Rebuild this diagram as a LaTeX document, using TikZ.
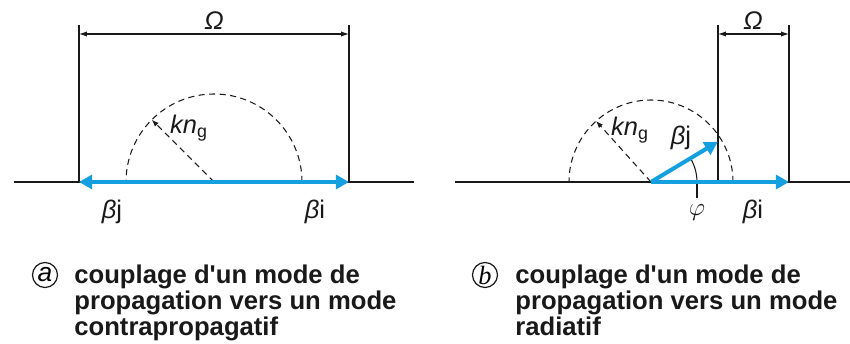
\documentclass[tikz,border=0pt]{standalone}
\usepackage{fontspec}
\setmainfont{Liberation Sans}
\newfontfamily\capfont{Liberation Sans}
\newfontfamily\tagserif{Liberation Serif}
\usepackage{xcolor}
\usepackage{tikz}
\usetikzlibrary{arrows.meta, calc}
\definecolor{vecblue}{RGB}{20,160,222}
\definecolor{inkblack}{RGB}{25,25,25}

\tikzset{
    axisline/.style={inkblack, line width=0.7pt},
    wall/.style={inkblack, line width=0.7pt},
    dimline/.style={inkblack, line width=0.6pt,
        {Latex[length=4.5pt,width=3pt]}-{Latex[length=4.5pt,width=3pt]}},
    halfcircle/.style={inkblack, line width=0.6pt, dash pattern=on 3.5pt off 2.5pt},
    radiusline/.style={halfcircle, -{Latex[length=4pt,width=3pt]}},
    vecarrow/.style={vecblue, line width=2.3pt, -{Triangle[length=7.5pt,width=8pt]}},
    bivec/.style={vecblue, line width=2.3pt,
        {Triangle[length=7.5pt,width=8pt]}-{Triangle[length=7.5pt,width=8pt]}},
    sym/.style={font=\fontsize{14.5pt}{16pt}\selectfont, inner sep=1pt, text=inkblack},
    captext/.style={font=\capfont\fontsize{14.6pt}{13.6pt}\selectfont\bfseries,
        align=left, anchor=north west, inner sep=0pt, text=inkblack},
    tag/.style={circle, draw=inkblack, line width=0.7pt, inner sep=0pt,
        minimum size=0.5cm, font=\fontsize{15pt}{16pt}\selectfont\itshape}
}

\begin{document}
\begin{tikzpicture}[x=0.02cm, y=0.02cm]

    \useasboundingbox (0,0) rectangle (850,344);

    % (a) contrapropagatif
    \coordinate (Oa) at (214,162);
    \coordinate (aLeft) at (14,162);
    \coordinate (aRight) at (414,162);
    \coordinate (aWallL) at (79,162);
    \coordinate (aWallR) at (349,162);
    \coordinate (aTopL) at (79,319);
    \coordinate (aTopR) at (349,319);
    \coordinate (aDimL) at (79,310);
    \coordinate (aDimR) at (349,310);
    \coordinate (aRad) at ($(Oa)+(135:88)$);

    \draw[axisline] (aLeft) -- (aRight);
    \draw[wall] (aWallL) -- (aTopL);
    \draw[wall] (aWallR) -- (aTopR);
    \draw[dimline] (aDimL) -- (aDimR);
    \draw[halfcircle] ($(Oa)+(88,0)$) arc[start angle=0, end angle=180, radius=88];
    \draw[radiusline] (Oa) -- (aRad);
    \draw[bivec] (aWallL) -- (aWallR);

    \node[sym] (aOmega) at (214,323) {\textit{Ω}};
    \node[sym, anchor=west] (aKng) at (168,216) {\textit{kn}\textsubscript{g}};
    \node[sym] (aBj) at (112,132) {\textit{β}j};
    \node[sym] (aBi) at (315,132) {\textit{β}i};

    % (b) radiatif
    \coordinate (Ob) at (651,162);
    \coordinate (bLeft) at (455,162);
    \coordinate (bRight) at (850,162);
    \coordinate (bWallL) at (718,162);
    \coordinate (bWallR) at (789,162);
    \coordinate (bTopL) at (718,319);
    \coordinate (bTopR) at (789,319);
    \coordinate (bDimL) at (718,310);
    \coordinate (bDimR) at (789,310);
    \coordinate (bRad) at ($(Ob)+(132:82)$);
    \coordinate (bTip) at ($(Ob)+(31:78)$);
    \coordinate (phiFoot) at (697,146);

    \draw[axisline] (bLeft) -- (bRight);
    \draw[wall] (bWallL) -- (bTopL);
    \draw[wall] (bWallR) -- (bTopR);
    \draw[dimline] (bDimL) -- (bDimR);
    \draw[halfcircle] ($(Ob)+(82,0)$) arc[start angle=0, end angle=180, radius=82];
    \draw[radiusline] (Ob) -- (bRad);
    \draw[inkblack, line width=0.6pt] ($(Ob)+(46,0)$) arc[start angle=0, end angle=31, radius=46];
    \draw[inkblack, line width=0.6pt] ($(Ob)+(46,0)$) -- (phiFoot);
    \draw[vecarrow] (Ob) -- (bWallR);
    \draw[vecarrow] (Ob) -- (bTip);

    \node[sym] (bOmega) at (753,323) {\textit{Ω}};
    \node[sym, anchor=west] (bKng) at (609,214) {\textit{kn}\textsubscript{g}};
    \node[sym] (bBj) at (681,206) {\textit{β}j};
    \node[sym] (bPhi) at (697,131) {$\varphi$};
    \node[sym] (bBi) at (753,132) {\textit{β}i};

    % legends
    \node[tag] (tagA) at (45,69) {a};
    \node[captext] (capA) at (74,79)
    {
        couplage d'un mode de\\
        propagation vers un mode\\
        contrapropagatif
    };
    \node[tag] (tagB) at (485,69) {\tagserif b};
    \node[captext] (capB) at (515,79)
    {
        couplage d'un mode de\\
        propagation vers un mode\\
        radiatif
    };

\end{tikzpicture}
\end{document}
